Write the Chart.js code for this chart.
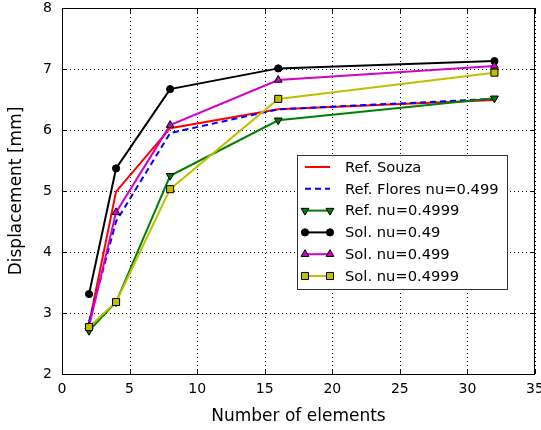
<!DOCTYPE html>
<html>
<head>
<meta charset="utf-8">
<script src="https://cdn.jsdelivr.net/npm/chart.js@4"></script>
<style>
  html, body { margin: 0; padding: 0; background: #fff; }
  #wrap { width: 541px; height: 430px; }
</style>
</head>
<body>
<div id="wrap"><canvas id="chart" width="541" height="430"></canvas></div>
<script>
// data
var elements = [2, 4, 8, 16, 32];
var refSouza = [2.82, 4.99, 6.03, 6.34, 6.49];
var refFlores = [2.86, 4.50, 5.95, 6.34, 6.51];
var refNu4999 = [2.71, 3.18, 5.25, 6.16, 6.52];
var sol49 = [3.31, 5.37, 6.67, 7.01, 7.13];
var sol499 = [2.78, 4.65, 6.08, 6.82, 7.05];
var sol4999 = [2.77, 3.18, 5.03, 6.51, 6.94];
var xTicks = [0, 5, 10, 15, 20, 25, 30, 35];
var yTicks = [2, 3, 4, 5, 6, 7, 8];

var FONT = "'DejaVu Sans', sans-serif";

function pts(ys) {
  return elements.map(function (x, i) { return { x: x, y: ys[i] }; });
}

var series = [
  { label: "Ref. Souza", data: refSouza, color: "#ff0000", dash: [], marker: false },
  { label: "Ref. Flores nu=0.499", data: refFlores, color: "#0000ff", dash: [6, 4], marker: false },
  { label: "Ref. nu=0.4999", data: refNu4999, color: "#008000", dash: [], marker: "triangle", rot: 180, r: 4.5 },
  { label: "Sol. nu=0.49", data: sol49, color: "#000000", dash: [], marker: "circle", r: 3.6 },
  { label: "Sol. nu=0.499", data: sol499, color: "#d500c8", dash: [], marker: "triangle", rot: 0, r: 4.5 },
  { label: "Sol. nu=0.4999", data: sol4999, color: "#bfbf00", dash: [], marker: "rect", r: 5 }
];

var datasets = series.map(function (s, i) {
  return {
    label: s.label,
    data: pts(s.data),
    borderColor: s.color,
    borderWidth: 2,
    borderDash: s.dash,
    backgroundColor: s.color,
    pointStyle: s.marker || "circle",
    pointRotation: s.rot || 0,
    pointRadius: s.marker ? s.r : 0,
    pointBorderColor: "#000",
    pointBorderWidth: 1,
    pointBackgroundColor: s.color,
    tension: 0,
    order: series.length - i
  };
});

// dotted grid behind the lines
var dottedGrid = {
  id: "dottedGrid",
  beforeDatasetsDraw: function (chart) {
    var ctx = chart.ctx;
    var a = chart.chartArea;
    var xs = chart.scales.x, ys = chart.scales.y;
    ctx.save();
    ctx.strokeStyle = "#000";
    ctx.lineWidth = 1;
    ctx.setLineDash([1, 3]);
    ctx.beginPath();
    xTicks.forEach(function (v) {
      var px = Math.round(xs.getPixelForValue(v)) + 0.5;
      ctx.moveTo(px, a.bottom); ctx.lineTo(px, a.top);
    });
    yTicks.forEach(function (v) {
      var py = Math.round(ys.getPixelForValue(v)) + 0.5;
      ctx.moveTo(a.left, py); ctx.lineTo(a.right, py);
    });
    ctx.stroke();
    ctx.restore();
  }
};

// matplotlib style frame, inward ticks, legend inside the axes
var frameAndLegend = {
  id: "frameAndLegend",
  afterDatasetsDraw: function (chart) {
    var ctx = chart.ctx;
    var a = chart.chartArea;
    var xs = chart.scales.x, ys = chart.scales.y;
    ctx.save();
    ctx.strokeStyle = "#000";
    ctx.lineWidth = 1;
    ctx.setLineDash([]);
    ctx.strokeRect(Math.round(a.left) + 0.5, Math.round(a.top) + 0.5,
      Math.round(a.right - a.left) - 1, Math.round(a.bottom - a.top));
    var tl = 5;
    ctx.beginPath();
    xTicks.forEach(function (v) {
      var px = Math.round(xs.getPixelForValue(v)) + 0.5;
      ctx.moveTo(px, a.bottom); ctx.lineTo(px, a.bottom - tl);
      ctx.moveTo(px, a.top); ctx.lineTo(px, a.top + tl);
    });
    yTicks.forEach(function (v) {
      var py = Math.round(ys.getPixelForValue(v)) + 0.5;
      ctx.moveTo(a.left, py); ctx.lineTo(a.left + tl, py);
      ctx.moveTo(a.right, py); ctx.lineTo(a.right - tl, py);
    });
    ctx.stroke();

    // legend box
    var bx = 297, by = 155, bw = 210, bh = 134;
    ctx.fillStyle = "#fff";
    ctx.fillRect(bx, by, bw, bh);
    ctx.strokeStyle = "#333";
    ctx.strokeRect(bx + 0.5, by + 0.5, bw, bh);
    ctx.font = "14.7px " + FONT;
    ctx.textBaseline = "middle";
    ctx.textAlign = "left";
    series.forEach(function (s, i) {
      var cy = 167 + i * 21.8;
      var x1 = 305, x2 = 330;
      ctx.strokeStyle = s.color;
      ctx.lineWidth = 2;
      ctx.setLineDash(s.dash);
      ctx.beginPath();
      ctx.moveTo(x1, cy); ctx.lineTo(x2, cy);
      ctx.stroke();
      ctx.setLineDash([]);
      if (s.marker) {
        [x1, x2].forEach(function (mx) {
          ctx.fillStyle = s.color;
          ctx.strokeStyle = "#000";
          ctx.lineWidth = 1;
          Chart.helpers.drawPoint(ctx, {
            pointStyle: s.marker, rotation: s.rot || 0, radius: s.r, borderWidth: 1
          }, mx, cy);
        });
      }
      ctx.fillStyle = "#000";
      ctx.fillText(s.label, 345, cy + 1);
    });
    ctx.restore();
  }
};

new Chart(document.getElementById("chart"), {
  type: "line",
  data: { datasets: datasets },
  options: {
    responsive: false,
    animation: false,
    layout: { padding: { top: 8, right: 6, left: 0, bottom: 0 } },
    plugins: { legend: { display: false }, tooltip: { enabled: false } },
    scales: {
      x: {
        type: "linear",
        min: 0, max: 35,
        afterBuildTicks: function (s) { s.ticks = xTicks.map(function (v) { return { value: v }; }); },
        afterFit: function (s) { s.height = 56; s.paddingLeft = 0; s.paddingRight = 0; },
        ticks: { color: "#000", padding: 7, maxRotation: 0, font: { family: FONT, size: 14 } },
        grid: { display: false, drawTicks: false },
        border: { display: false },
        title: { display: true, text: "Number of elements", color: "#000",
          font: { family: FONT, size: 17 }, padding: { top: 0, bottom: 3 } }
      },
      y: {
        type: "linear",
        min: 2, max: 8,
        afterBuildTicks: function (s) { s.ticks = yTicks.map(function (v) { return { value: v }; }); },
        afterFit: function (s) { s.width = 62; s.paddingTop = 0; s.paddingBottom = 0; },
        ticks: { color: "#000", padding: 10, font: { family: FONT, size: 14 } },
        grid: { display: false, drawTicks: false },
        border: { display: false },
        title: { display: true, text: "Displacement [mm]", color: "#000",
          font: { family: FONT, size: 17 }, padding: { top: 6, bottom: 0 } }
      }
    }
  },
  plugins: [dottedGrid, frameAndLegend]
});
</script>
</body>
</html>
